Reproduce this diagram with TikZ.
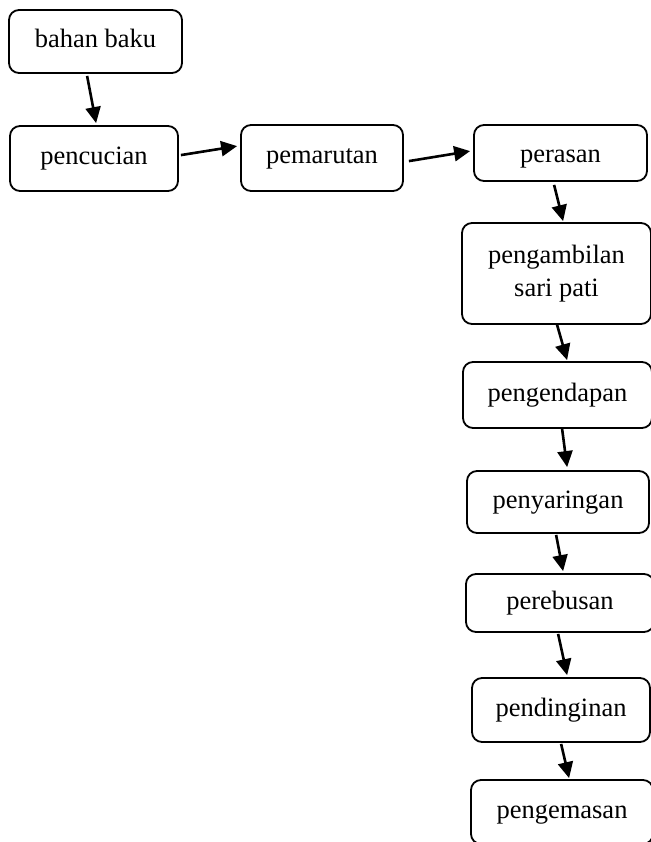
\documentclass[tikz,border=0pt]{standalone}
\usepackage{fontspec}
\setmainfont{Liberation Serif}
\usetikzlibrary{arrows.meta,calc}
\begin{document}
\begin{tikzpicture}[x=1pt,y=-1pt,
  procbox/.style={draw, line width=1.8pt, rounded corners=10pt, rectangle,
    inner sep=0pt, align=center, font=\fontsize{26.5}{33}\selectfont},
  oneline/.style={text height=18.5pt, text depth=6.5pt},
  flow/.style={line width=2.6pt, -{Triangle[length=16pt,width=15pt]}}]
\useasboundingbox (0,0) rectangle (650,842);
\node[procbox, oneline, minimum width=173pt, minimum height=63pt] (bahan) at (95.5,41.5) {bahan baku};
\node[procbox, oneline, minimum width=168pt, minimum height=65pt] (cuci) at (94,158.5) {pencucian};
\node[procbox, oneline, minimum width=162pt, minimum height=66pt] (parut) at (322,158) {pemarutan};
\node[procbox, text height=25pt, text depth=5pt, minimum width=173pt, minimum height=56pt] (peras) at (560.5,153) {perasan};
\node[procbox, minimum width=189pt, minimum height=101pt] (ambil) at (556.5,273.5) {pengambilan\\sari pati};
\node[procbox, oneline, minimum width=189pt, minimum height=66pt] (endap) at (557.5,395) {pengendapan};
\node[procbox, oneline, minimum width=182pt, minimum height=62pt] (saring) at (558,502) {penyaringan};
\node[procbox, oneline, minimum width=188pt, minimum height=58pt] (rebus) at (560,603) {perebusan};
\node[procbox, oneline, minimum width=178pt, minimum height=64pt] (dingin) at (561,710) {pendinginan};
\node[procbox, oneline, minimum width=182pt, minimum height=64pt] (kemas) at (562,812) {pengemasan};
\draw[flow] ($(bahan.south west)+(79,2)$) -- ($(cuci.north west)+(87,-2)$);
\draw[flow] ($(cuci.north east)+(2,30)$) -- ($(parut.north west)+(-3,22)$);
\draw[flow] ($(parut.north east)+(5,37)$) -- ($(peras.north west)+(-3,27)$);
\draw[flow] ($(peras.south west)+(81,3)$) -- ($(ambil.north west)+(102,-1)$);
\draw[flow] ($(ambil.south west)+(96,0)$) -- ($(endap.north west)+(105,-1)$);
\draw[flow] ($(endap.south west)+(100,0)$) -- ($(saring.north west)+(101,-3)$);
\draw[flow] ($(saring.south west)+(90,1)$) -- ($(rebus.north west)+(98,-2)$);
\draw[flow] ($(rebus.south west)+(93,1)$) -- ($(dingin.north west)+(96,-2)$);
\draw[flow] ($(dingin.south west)+(90,1)$) -- ($(kemas.north west)+(99,-1)$);
\end{tikzpicture}
\end{document}
